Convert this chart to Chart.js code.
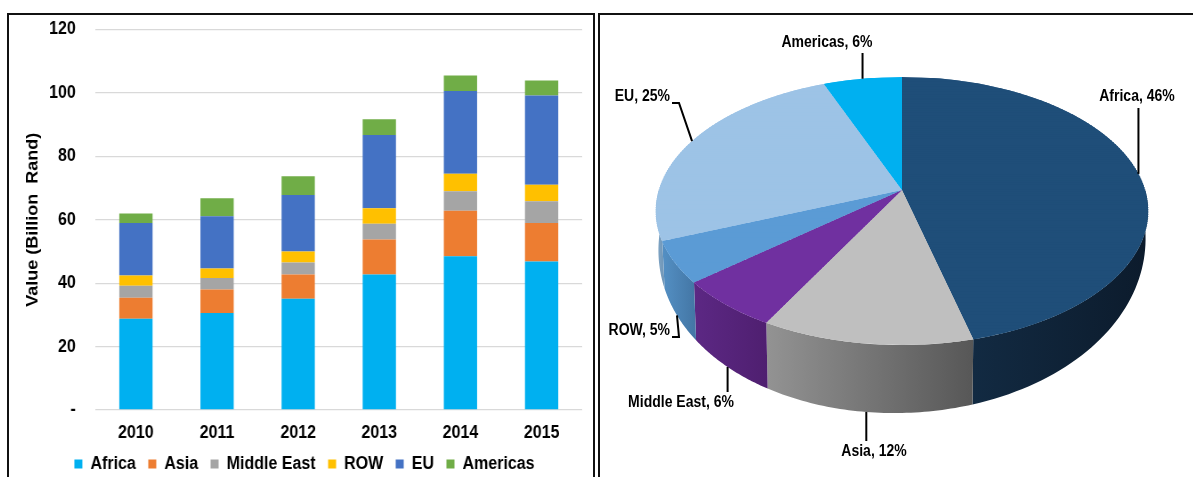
<!DOCTYPE html>
<html>
<head>
<meta charset="utf-8">
<script src="https://cdn.jsdelivr.net/npm/chart.js@4.4.1/dist/chart.umd.min.js"></script>
<style>
  html, body { margin:0; padding:0; background:#fff; }
  body { width:1193px; height:477px; overflow:hidden; position:relative; }
  #leftPanel { position:absolute; left:7px; top:13px; width:588px; height:520px; border:2px solid #111; box-sizing:border-box; }
  #rightPanel { position:absolute; left:598px; top:13px; width:700px; height:520px; border-left:2px solid #111; border-top:2px solid #111; box-sizing:border-box; }
  #barCanvas { position:absolute; left:9px; top:0px; transform:scaleX(0.89); transform-origin:0 0; }
  #pieCanvas { position:absolute; left:602px; top:0px; }
</style>
</head>
<body>
<div id="leftPanel"></div>
<div id="rightPanel"></div>
<canvas id="barCanvas" width="656" height="487"></canvas>
<canvas id="pieCanvas" width="600" height="492"></canvas>
<script>
// ---------- data ----------
const years = ['2010', '2011', '2012', '2013', '2014', '2015'];
const africa     = [28.8, 30.6, 35.1, 42.7, 48.5, 46.8];
const asia       = [6.6, 7.4, 7.6, 11.1, 14.3, 12.2];
const middleEast = [3.8, 3.6, 3.8, 4.9, 6.2, 6.8];
const rowValues  = [3.2, 3.0, 3.5, 4.9, 5.5, 5.2];
const eu         = [16.6, 16.5, 17.8, 23.1, 26.1, 28.2];
const americas   = [3.0, 5.7, 5.9, 5.0, 4.9, 4.7];
const yTickValues = [0, 20, 40, 60, 80, 100, 120];

const pieLabels = ['Africa', 'Asia', 'Middle East', 'ROW', 'EU', 'Americas'];
const pieShares = [46, 12, 6, 5, 25, 6];

// ---------- styles ----------
const barColors = {
  Africa: '#00B0F0', Asia: '#ED7D31', 'Middle East': '#A5A5A5',
  ROW: '#FFC000', EU: '#4472C4', Americas: '#70AD47'
};
const pieTopColors  = ['#1F4E79', '#BFBFBF', '#7030A0', '#5B9BD5', '#9DC3E6', '#00B0F0'];
const pieSideLight  = ['#122a42', '#939393', '#5c2884', '#5490c4', '#84a9c9', '#0090c8'];
const pieSideDark   = ['#0c1b2c', '#575757', '#4f1f70', '#4477a6', '#7399ba', '#0078a8'];

const FONT = "'Liberation Sans', Arial, sans-serif";

// ---------- bar chart ----------
const barSeries = [
  ['Africa', africa], ['Asia', asia], ['Middle East', middleEast],
  ['ROW', rowValues], ['EU', eu], ['Americas', americas]
];
const legendShift = {
  id: 'legendShift',
  afterLayout(chart) { chart.legend.left += 10; chart.legend.right += 10; }
};
new Chart(document.getElementById('barCanvas'), {
  type: 'bar',
  data: {
    labels: years,
    datasets: barSeries.map(([name, vals]) => ({
      label: name, data: vals, backgroundColor: barColors[name],
      borderWidth: 0, barPercentage: 0.41, categoryPercentage: 1.0
    }))
  },
  options: {
    responsive: false, animation: false,
    layout: { padding: { top: 0, right: 12, left: 0, bottom: 4 } },
    plugins: {
      tooltip: { enabled: false },
      legend: {
        position: 'bottom',
        labels: { boxWidth: 9, boxHeight: 9, padding: 14, color: '#000',
                  font: { family: FONT, size: 18, weight: 'bold' } }
      }
    },
    scales: {
      x: {
        stacked: true,
        grid: { display: false, drawTicks: false },
        border: { display: false },
        ticks: { color: '#000', padding: 12, font: { family: FONT, size: 18, weight: 'bold' } },
        afterFit(s) { s.height = 31; }
      },
      y: {
        stacked: true, min: 0, max: 120,
        afterBuildTicks(s) { s.ticks = yTickValues.map(v => ({ value: v })); },
        grid: { color: '#D9D9D9', lineWidth: 1.3, drawTicks: false },
        border: { display: false },
        ticks: { color: '#000', padding: 22, font: { family: FONT, size: 18, weight: 'bold' },
                 callback: v => v === 0 ? '-' : String(v) },
        title: { display: true, text: 'Value (Billion  Rand)', color: '#000',
                 font: { family: FONT, size: 18, weight: 'bold' }, padding: { top: 16, bottom: 0 } },
        afterFit(s) { s.width = 97; s.paddingTop = 29.5; }
      }
    }
  },
  plugins: [legendShift]
});

// ---------- perspective 3-D pie ----------
// label text layout (canvas coordinates); leader ends are computed from the arcs
const pieLabelLayout = [
  { tx: 535, ty: 97,  align: 'center', lead: 'v', ly: 108 },
  { tx: 272, ty: 452, align: 'center', lead: 'v', ly: 441 },
  { tx: 79,  ty: 403, align: 'center', lead: 'v', ly: 392 },
  { tx: 68,  ty: 331, align: 'right',  lead: 'elbow', lx: 70, ly: 337 },
  { tx: 68,  ty: 97,  align: 'right',  lead: 'elbow', lx: 70, ly: 103 },
  { tx: 225, ty: 43,  align: 'center', lead: 'v', ly: 53 }
];

function makeProj(cx, o) {
  // maps a unit-disk point (u = cos, w = sin; w>0 toward viewer) onto the screen
  return (u, w) => { const q = 1 + o.t * w; return [cx + o.cR * u / q, o.apexY + o.aR * w / q]; };
}
function wallDepth(o, th) {
  return o.h0 + o.h1 * Math.max(0, Math.sin(th)) + o.h2 * Math.cos(th);
}

const pie3d = {
  id: 'pie3d',
  beforeDatasetsDraw(chart, args, o) {
    const meta = chart.getDatasetMeta(0);
    const a0 = meta.data[0];
    const cx = a0.x, cy = a0.y, R = a0.outerRadius;
    const ctx = chart.ctx;
    const P = makeProj(cx, o);
    // side walls (front half only)
    meta.data.forEach((arc, i) => {
      const s = Math.max(arc.startAngle, 0), e = Math.min(arc.endAngle, Math.PI);
      if (e <= s) return;
      const n = 48, top = [], bot = [];
      for (let j = 0; j <= n; j++) {
        const th = s + (e - s) * j / n;
        const p = P(Math.cos(th), Math.sin(th));
        top.push(p);
        bot.push([cx + (p[0] - cx) * o.bx, p[1] + wallDepth(o, th)]);
      }
      const xs = top.map(p => p[0]);
      const g = ctx.createLinearGradient(Math.min(...xs), 0, Math.max(...xs), 0);
      g.addColorStop(0, pieSideLight[i]);
      g.addColorStop(1, pieSideDark[i]);
      ctx.beginPath();
      top.forEach((p, j) => j ? ctx.lineTo(p[0], p[1]) : ctx.moveTo(p[0], p[1]));
      for (let j = n; j >= 0; j--) ctx.lineTo(bot[j][0], bot[j][1]);
      ctx.closePath();
      ctx.fillStyle = g;
      ctx.fill();
    });
    // top face: library-drawn arcs, projected strip by strip
    const N = 120;
    for (let j = 0; j < N; j++) {
      const w0 = -1 + 2 * j / N, w1 = -1 + 2 * (j + 1) / N, wm = (w0 + w1) / 2;
      const q = 1 + o.t * wm;
      const sx = (o.cR / R) / q;
      const sy = (o.aR / R) / (q * q);
      const ym = o.apexY + o.aR * wm / q;
      ctx.save();
      ctx.translate(cx, ym);
      ctx.scale(sx, sy);
      ctx.translate(-cx, -(cy + wm * R));
      ctx.beginPath();
      ctx.rect(cx - R - 4, cy + w0 * R - 1.6, 2 * R + 8, (w1 - w0) * R + 3.2);
      ctx.clip();
      meta.data.forEach(el => el.draw(ctx));
      ctx.restore();
    }
    return false;
  },
  afterDraw(chart, args, o) {
    const ctx = chart.ctx;
    const meta = chart.getDatasetMeta(0);
    const cx = meta.data[0].x;
    const P = makeProj(cx, o);
    ctx.save();
    ctx.strokeStyle = '#000';
    ctx.lineWidth = 2;
    ctx.fillStyle = '#000';
    ctx.font = 'bold 16px ' + FONT;
    ctx.textBaseline = 'middle';
    meta.data.forEach((arc, i) => {
      const m = (arc.startAngle + arc.endAngle) / 2;
      let [ax, ay] = P(Math.cos(m), Math.sin(m));
      if (Math.sin(m) > 0.3) {
        ax = cx + (ax - cx) * o.bx;
        ay = ay + wallDepth(o, m);
      }
      const L = pieLabelLayout[i];
      ctx.beginPath();
      if (L.lead === 'v') {
        ctx.moveTo(ax, L.ly); ctx.lineTo(ax, ay);
      } else {
        ctx.moveTo(L.lx, L.ly); ctx.lineTo(L.lx + 7, L.ly); ctx.lineTo(ax, ay);
      }
      ctx.stroke();
      ctx.save();
      ctx.translate(L.tx, L.ty);
      ctx.scale(0.875, 1);
      ctx.textAlign = L.align;
      ctx.fillText(pieLabels[i] + ', ' + pieShares[i] + '%', 0, 0);
      ctx.restore();
    });
    ctx.restore();
  }
};

new Chart(document.getElementById('pieCanvas'), {
  type: 'pie',
  data: {
    labels: pieLabels,
    datasets: [{ data: pieShares, backgroundColor: pieTopColors, borderWidth: 0, hoverOffset: 0 }]
  },
  options: {
    responsive: false, animation: false,
    layout: { padding: 0 },
    plugins: {
      legend: { display: false }, tooltip: { enabled: false },
      pie3d: { apexY: 190, aR: 130.7, cR: 243, t: -0.1567, h0: 27, h1: 41, h2: -6, bx: 0.99 }
    }
  },
  plugins: [pie3d]
});
</script>
</body>
</html>
